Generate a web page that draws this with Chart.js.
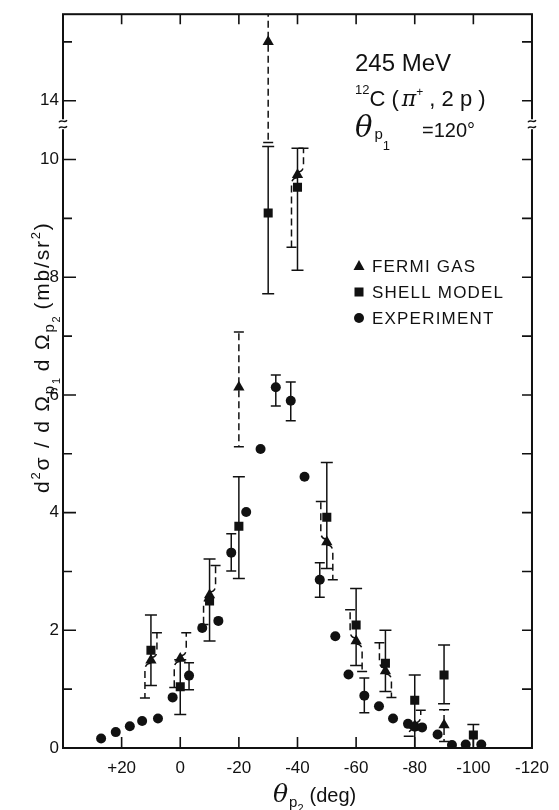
<!DOCTYPE html>
<html>
<head>
<meta charset="utf-8">
<script src="https://cdn.jsdelivr.net/npm/chart.js@4.4.0/dist/chart.umd.min.js"></script>
<style>
  html, body { margin: 0; padding: 0; background: #fff; }
  canvas { display: block; }
</style>
</head>
<body>
<canvas id="chart" width="559" height="810"></canvas>
<script>
// values (angle in deg, cross section in mb/sr^2)
const fermiAngle = [10, 0, -10, -20, -30, -40, -50, -60, -70, -80, -90];
const fermiValue = [1.49, 1.52, 2.6, 6.13, 15.0, 9.74, 3.5, 1.82, 1.31, 0.38, 0.39];
const fermiLow = [0.85, 1.03, 2.1, 5.12, 10.29, 8.51, 2.86, 1.3, 0.86, 0.2, 0.11];
const fermiHigh = [1.96, 1.96, 3.1, 7.07, 20, 10.19, 4.19, 2.35, 1.79, 0.64, 0.65];

const shellAngle = [10, 0, -10, -20, -30, -40, -50, -60, -70, -80, -90, -100];
const shellValue = [1.66, 1.04, 2.5, 3.77, 9.09, 9.53, 3.92, 2.09, 1.44, 0.81, 1.24, 0.22];
const shellLow = [1.06, 0.57, 1.82, 2.88, 7.72, 8.12, 3.05, 1.4, 0.96, 0, 0.75, 0.02];
const shellHigh = [2.26, 1.5, 3.21, 4.61, 10.22, 10.19, 4.85, 2.71, 2.0, 1.24, 1.75, 0.4];

const expAngle = [27, 22, 17.2, 13, 7.6, 2.6, -3, -7.5, -13, -17.4, -22.5, -27.4, -32.6, -37.7, -42.4, -47.6, -52.9, -57.4, -62.8, -67.8, -72.6, -77.7, -80, -82.5, -87.8, -92.7, -97.4, -102.7];
const expValue = [0.16, 0.27, 0.37, 0.46, 0.5, 0.86, 1.23, 2.04, 2.16, 3.32, 4.01, 5.08, 6.13, 5.9, 4.61, 2.86, 1.9, 1.25, 0.89, 0.71, 0.5, 0.41, 0.36, 0.35, 0.23, 0.05, 0.06, 0.06];
const expLow = [null, null, null, null, null, null, 0.99, null, null, 3.01, null, null, 5.81, 5.56, null, 2.56, null, null, 0.6, null, null, null, null, null, null, null, null, null];
const expHigh = [null, null, null, null, null, null, 1.45, null, null, 3.64, null, null, 6.34, 6.22, null, 3.15, null, null, 1.19, null, null, null, null, null, null, null, null, null];

const xTicks = [40, 20, 0, -20, -40, -60, -80, -100, -120];
const xTickLabels = ["", "+20", "0", "-20", "-40", "-60", "-80", "-100", "-120"];
const yTicks = [0, 1, 2, 3, 4, 5, 6, 7, 8, 9, 10, 14, 15];
const legendLabels = ["FERMI GAS", "SHELL MODEL", "EXPERIMENT"];

// the y axis is broken between 10 and 14: values above the break are shifted down by 3
const BREAK_SHIFT = 3;
function toDisplay(v) {
  return v > 11 ? v - BREAK_SHIFT : v;
}

// offset direction of the dashed Fermi gas error bar halves (upper half moves this way)
const fermiJog = [1, 1, 1, 0, 0, 1, -1, -1, -1, 1, 0];

const INK = "#111";
const FONT = "'Liberation Sans', Arial, sans-serif";

function pts(xs, ys) {
  return xs.map((x, i) => ({ x: x, y: toDisplay(ys[i]) }));
}

function drawRich(ctx, segments, x, y) {
  let cx = x;
  segments.forEach((s) => {
    ctx.font = (s.italic ? "italic " : "") + s.size + "px " + (s.family || FONT);
    ctx.fillText(s.t, cx, y + (s.dy || 0));
    cx += ctx.measureText(s.t).width + (s.gap || 0);
  });
  return cx;
}

function capLine(ctx, x, y, half) {
  ctx.beginPath();
  ctx.moveTo(x - half, y);
  ctx.lineTo(x + half, y);
  ctx.stroke();
}

const errorBars = {
  id: "errorBars",
  beforeDatasetsDraw(chart) {
    const ctx = chart.ctx;
    const xs = chart.scales.x;
    const ys = chart.scales.y;
    const area = chart.chartArea;
    ctx.save();
    ctx.beginPath();
    ctx.rect(area.left, area.top, area.right - area.left, area.bottom - area.top);
    ctx.clip();
    ctx.strokeStyle = INK;
    ctx.lineWidth = 1.5;

    // shell model: solid bars
    shellAngle.forEach((a, i) => {
      const px = xs.getPixelForValue(a);
      const lo = ys.getPixelForValue(toDisplay(shellLow[i]));
      const hi = ys.getPixelForValue(toDisplay(shellHigh[i]));
      ctx.setLineDash([]);
      ctx.beginPath();
      ctx.moveTo(px, lo);
      ctx.lineTo(px, hi);
      ctx.stroke();
      capLine(ctx, px, hi, 6);
      if (shellLow[i] > 0.05) capLine(ctx, px, lo, 6);
    });

    // experiment: solid bars where given
    expAngle.forEach((a, i) => {
      if (expLow[i] === null) return;
      const px = xs.getPixelForValue(a);
      const lo = ys.getPixelForValue(expLow[i]);
      const hi = ys.getPixelForValue(expHigh[i]);
      ctx.setLineDash([]);
      ctx.beginPath();
      ctx.moveTo(px, lo);
      ctx.lineTo(px, hi);
      ctx.stroke();
      capLine(ctx, px, hi, 5);
      capLine(ctx, px, lo, 5);
    });

    // fermi gas: dashed bars, each half slightly offset
    fermiAngle.forEach((a, i) => {
      const px = xs.getPixelForValue(a);
      const py = ys.getPixelForValue(toDisplay(fermiValue[i]));
      const lo = ys.getPixelForValue(toDisplay(fermiLow[i]));
      const hi = ys.getPixelForValue(toDisplay(fermiHigh[i]));
      const off = 6 * fermiJog[i];
      ctx.setLineDash([7, 4]);
      ctx.beginPath();
      ctx.moveTo(px, py - 3);
      ctx.quadraticCurveTo(px + off, py - 3, px + off, py - 10);
      ctx.lineTo(px + off, hi);
      ctx.stroke();
      ctx.beginPath();
      ctx.moveTo(px, py + 3);
      ctx.quadraticCurveTo(px - off, py + 3, px - off, py + 10);
      ctx.lineTo(px - off, lo);
      ctx.stroke();
      ctx.setLineDash([]);
      capLine(ctx, px + off, hi, 5);
      capLine(ctx, px - off, lo, 5);
    });
    ctx.restore();
  },
};

const frameAndText = {
  id: "frameAndText",
  afterDraw(chart) {
    const ctx = chart.ctx;
    const xs = chart.scales.x;
    const ys = chart.scales.y;
    const a = chart.chartArea;
    ctx.save();
    ctx.strokeStyle = INK;
    ctx.fillStyle = INK;
    ctx.setLineDash([]);

    // frame
    ctx.lineWidth = 2;
    ctx.strokeRect(a.left, a.top, a.right - a.left, a.bottom - a.top);

    // inward ticks
    ctx.lineWidth = 1.6;
    xTicks.forEach((v) => {
      if (v === 40 || v === -120) return;
      const px = xs.getPixelForValue(v);
      ctx.beginPath();
      ctx.moveTo(px, a.bottom);
      ctx.lineTo(px, a.bottom - 11);
      ctx.moveTo(px, a.top);
      ctx.lineTo(px, a.top + 10);
      ctx.stroke();
    });
    yTicks.forEach((v) => {
      if (v === 0) return;
      const py = ys.getPixelForValue(toDisplay(v));
      const len = v % 2 === 0 ? 13 : 9;
      ctx.beginPath();
      ctx.moveTo(a.left, py);
      ctx.lineTo(a.left + len, py);
      ctx.moveTo(a.right, py);
      ctx.lineTo(a.right - 10, py);
      ctx.stroke();
    });

    // axis break marks
    const by = ys.getPixelForValue(10.6);
    [a.left, a.right].forEach((bx) => {
      ctx.fillStyle = "#fff";
      ctx.fillRect(bx - 3, by - 5, 6, 10);
      ctx.strokeStyle = INK;
      ctx.lineWidth = 1.4;
      [-3, 3].forEach((dy) => {
        ctx.beginPath();
        ctx.moveTo(bx - 4, by + dy + 1);
        ctx.bezierCurveTo(bx - 2, by + dy - 3, bx + 1, by + dy + 3, bx + 4, by + dy - 1);
        ctx.stroke();
      });
    });
    ctx.fillStyle = INK;

    // y axis title (rotated)
    ctx.save();
    ctx.translate(49, 493);
    ctx.rotate(-Math.PI / 2);
    ctx.textAlign = "left";
    ctx.textBaseline = "alphabetic";
    if ("letterSpacing" in ctx) ctx.letterSpacing = "1.8px";
    drawRich(ctx, [
      { t: "d", size: 21 },
      { t: "2", size: 13, dy: -9 },
      { t: "σ / d Ω", size: 21 },
      { t: "p", size: 15, dy: 5 },
      { t: "1", size: 11, dy: 11, gap: 5 },
      { t: "d Ω", size: 21 },
      { t: "p", size: 15, dy: 5 },
      { t: "2", size: 11, dy: 11, gap: 5 },
      { t: "(mb/sr", size: 21 },
      { t: "2", size: 13, dy: -9 },
      { t: ")", size: 21 },
    ], 0, 0);
    ctx.restore();

    // x axis title
    ctx.textAlign = "left";
    ctx.textBaseline = "alphabetic";
    drawRich(ctx, [
      { t: "θ", size: 25, italic: true, family: "'DejaVu Serif', serif", gap: 1 },
      { t: "p", size: 15, dy: 5 },
      { t: "2", size: 11, dy: 10, gap: 6 },
      { t: "(deg)", size: 20 },
    ], 273, 802);

    // reaction annotation
    drawRich(ctx, [{ t: "245 MeV", size: 24 }], 355, 71);
    drawRich(ctx, [
      { t: "12", size: 13, dy: -12 },
      { t: "C (", size: 22, gap: 3 },
      { t: "π", size: 22, italic: true, family: "'DejaVu Serif', serif" },
      { t: "+", size: 12, dy: -10 },
      { t: " , 2 p )", size: 22 },
    ], 355, 106);
    drawRich(ctx, [
      { t: "θ", size: 29, italic: true, family: "'DejaVu Serif', serif", gap: 2 },
      { t: "p", size: 15, dy: 2 },
      { t: "1", size: 13, dy: 13, gap: 32 },
      { t: "=120°", size: 20 },
    ], 355, 137);

    // legend
    const legendY = [266, 292, 318];
    const mx = 359;
    ctx.beginPath();
    ctx.moveTo(mx, legendY[0] - 6);
    ctx.lineTo(mx + 5.5, legendY[0] + 4);
    ctx.lineTo(mx - 5.5, legendY[0] + 4);
    ctx.closePath();
    ctx.fill();
    ctx.fillRect(mx - 4.5, legendY[1] - 4.5, 9, 9);
    ctx.beginPath();
    ctx.arc(mx, legendY[2], 5, 0, Math.PI * 2);
    ctx.fill();
    ctx.font = "17px " + FONT;
    ctx.textBaseline = "middle";
    if ("letterSpacing" in ctx) ctx.letterSpacing = "1.2px";
    legendLabels.forEach((t, i) => ctx.fillText(t, 372, legendY[i] + 1));
    ctx.restore();
  },
};

const ctx = document.getElementById("chart").getContext("2d");
new Chart(ctx, {
  type: "scatter",
  data: {
    datasets: [
      {
        label: "Experiment",
        data: pts(expAngle, expValue),
        pointStyle: "circle",
        pointRadius: 5,
        backgroundColor: INK,
        borderColor: INK,
        borderWidth: 0,
      },
      {
        label: "Shell model",
        data: pts(shellAngle, shellValue),
        pointStyle: "rect",
        pointRadius: 6.4,
        backgroundColor: INK,
        borderColor: INK,
        borderWidth: 0,
      },
      {
        label: "Fermi gas",
        data: pts(fermiAngle, fermiValue),
        pointStyle: "triangle",
        pointRadius: 6.5,
        backgroundColor: INK,
        borderColor: INK,
        borderWidth: 0,
      },
    ],
  },
  options: {
    responsive: false,
    animation: false,
    layout: { padding: { top: 7, right: 22, left: 0, bottom: 0 } },
    plugins: {
      legend: { display: false },
      tooltip: { enabled: false },
    },
    scales: {
      x: {
        type: "linear",
        min: -120,
        max: 40,
        reverse: true,
        afterBuildTicks: (scale) => {
          scale.ticks = xTicks.map((v) => ({ value: v }));
        },
        afterFit: (scale) => {
          scale.height = 62;
        },
        grid: { display: false, drawTicks: false },
        border: { display: false },
        ticks: {
          padding: 10,
          color: INK,
          font: { family: FONT, size: 17 },
          maxRotation: 0,
          autoSkip: false,
          callback: (value, index) => xTickLabels[index],
        },
      },
      y: {
        type: "linear",
        min: 0,
        max: 12.47,
        afterBuildTicks: (scale) => {
          scale.ticks = yTicks.map((v) => ({ value: toDisplay(v) }));
        },
        afterFit: (scale) => {
          scale.width = 63;
        },
        grid: { display: false, drawTicks: false },
        border: { display: false },
        ticks: {
          padding: 4,
          color: INK,
          font: { family: FONT, size: 17 },
          autoSkip: false,
          callback: (value, index) => (yTicks[index] % 2 === 0 ? String(yTicks[index]) : ""),
        },
      },
    },
  },
  plugins: [errorBars, frameAndText],
});
</script>
</body>
</html>
